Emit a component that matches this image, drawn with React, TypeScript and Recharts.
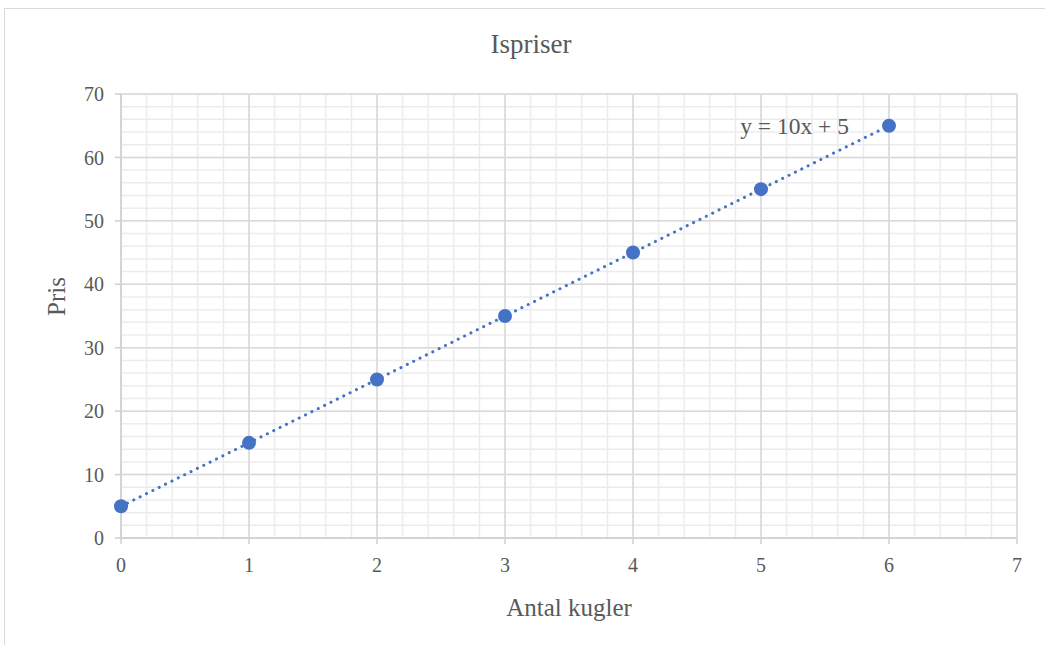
import {
  ComposedChart, Scatter, Line, XAxis, YAxis, CartesianGrid, ReferenceDot,
} from 'recharts';

const kugler = [0, 1, 2, 3, 4, 5, 6];
const pris = [5, 15, 25, 35, 45, 55, 65];
const trendX = [0, 6];
const trendY = [5, 65];
const xDomain = [0, 7];
const yDomain = [0, 70];
const xTicks = [0, 1, 2, 3, 4, 5, 6, 7];
const yTicks = [0, 10, 20, 30, 40, 50, 60, 70];
const xMinor = [
  0, 0.2, 0.4, 0.6, 0.8, 1, 1.2, 1.4, 1.6, 1.8, 2, 2.2, 2.4, 2.6, 2.8, 3, 3.2, 3.4, 3.6, 3.8,
  4, 4.2, 4.4, 4.6, 4.8, 5, 5.2, 5.4, 5.6, 5.8, 6, 6.2, 6.4, 6.6, 6.8, 7,
];
const yMinor = [
  0, 2, 4, 6, 8, 10, 12, 14, 16, 18, 20, 22, 24, 26, 28, 30, 32, 34, 36, 38,
  40, 42, 44, 46, 48, 50, 52, 54, 56, 58, 60, 62, 64, 66, 68, 70,
];

const points = kugler.map((x, i) => ({ x, y: pris[i] }));
const trend = trendX.map((x, i) => ({ x, y: trendY[i] }));

const FONT = '"Liberation Serif", "DejaVu Serif", serif';
const GREY = '#595959';
const BLUE = '#4472C4';

// minor grid positions, via the axis scale when recharts hands it over
const minorX = ({ xAxis, offset }: any) => {
  const s = xAxis?.scale;
  if (typeof s === 'function') return xMinor.map((v) => s(v));
  return xMinor.map((v) => offset.left + ((v - xDomain[0]) / (xDomain[1] - xDomain[0])) * offset.width);
};
const minorY = ({ yAxis, offset }: any) => {
  const s = yAxis?.scale;
  if (typeof s === 'function') return yMinor.map((v) => s(v));
  return yMinor.map((v) => offset.top + offset.height - ((v - yDomain[0]) / (yDomain[1] - yDomain[0])) * offset.height);
};

export default function App() {
  return (
    <div style={{ position: 'absolute', left: 0, top: 0, width: 1045, height: 645, background: '#fff', fontFamily: FONT }}>
      <div style={{
        position: 'absolute', left: 4, top: 8, width: 1060, height: 660,
        border: '1px solid #d9d9d9', boxSizing: 'border-box',
      }} />
      <div style={{
        position: 'absolute', left: 0, width: 1062, top: 29, textAlign: 'center',
        fontSize: 27, color: GREY,
      }}>
        Ispriser
      </div>
      <ComposedChart
        width={1045}
        height={645}
        margin={{ top: 94, right: 28, bottom: 0, left: 0 }}
        style={{ position: 'absolute', left: 0, top: 0 }}
      >
        <CartesianGrid
          stroke="#ececec"
          strokeWidth={1.5}
          verticalCoordinatesGenerator={minorX}
          horizontalCoordinatesGenerator={minorY}
        />
        <CartesianGrid stroke="#d9d9d9" strokeWidth={1.5} />
        <XAxis
          type="number"
          dataKey="x"
          domain={xDomain}
          ticks={xTicks}
          height={107}
          axisLine={{ stroke: '#d0d0d0', strokeWidth: 1.5 }}
          tickLine={{ stroke: '#d0d0d0', strokeWidth: 1.5 }}
          tickSize={6}
          tickMargin={14}
          tick={{ fill: GREY, fontSize: 20, fontFamily: FONT }}
          label={{ value: 'Antal kugler', position: 'insideBottom', offset: 29, fill: GREY, fontSize: 25, fontFamily: FONT }}
        />
        <YAxis
          type="number"
          dataKey="y"
          domain={yDomain}
          ticks={yTicks}
          width={121}
          axisLine={{ stroke: '#d0d0d0', strokeWidth: 1.5 }}
          tickLine={{ stroke: '#d0d0d0', strokeWidth: 1.5 }}
          tickSize={6}
          tickMargin={11}
          tick={{ fill: GREY, fontSize: 20, fontFamily: FONT }}
          label={{ value: 'Pris', angle: -90, position: 'insideLeft', offset: 56, fill: GREY, fontSize: 25, fontFamily: FONT }}
        />
        <Line
          data={trend}
          dataKey="y"
          stroke={BLUE}
          strokeWidth={3}
          strokeDasharray="0.1 7"
          strokeLinecap="round"
          dot={false}
          activeDot={false}
          isAnimationActive={false}
        />
        <Scatter data={points} dataKey="y" fill={BLUE} shape={(p: any) => <circle cx={p.cx} cy={p.cy} r={7} fill={BLUE} />} isAnimationActive={false} />
        <ReferenceDot
          x={trendX[1]}
          y={trendY[1]}
          r={0}
          stroke="none"
          label={{ value: 'y = 10x + 5', position: 'left', offset: 40, fill: GREY, fontSize: 23.5, fontFamily: FONT }}
        />
      </ComposedChart>
    </div>
  );
}
